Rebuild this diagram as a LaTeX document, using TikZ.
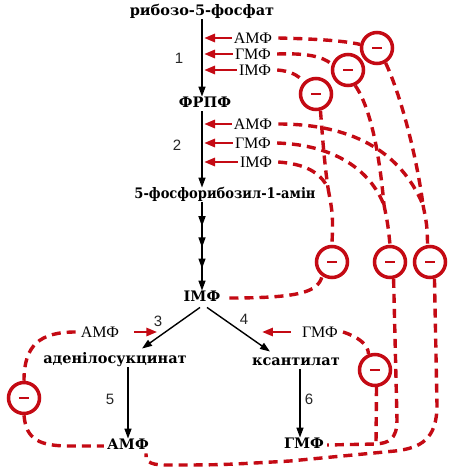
\documentclass[tikz,border=0pt]{standalone}
\usepackage{fontspec}
\setmainfont{Liberation Serif}
\newfontfamily\boldfam{DejaVu Serif}
\newfontfamily\boldnarrow{DejaVu Serif}[FakeStretch=0.9]
\newfontfamily\numfam{Liberation Sans}
\usetikzlibrary{arrows.meta,decorations.markings}
\definecolor{ired}{RGB}{196,10,20}
\begin{document}
\begin{tikzpicture}[x=1pt,y=-1pt,
  main/.style={font=\boldfam\bfseries\fontsize{14.5}{16}\selectfont, inner sep=1pt, text height=9.5pt, text depth=3pt},
  lab/.style={font=\fontsize{16}{18}\selectfont, inner sep=1pt, text height=10.5pt, text depth=0.5pt},
  num/.style={font=\numfam\fontsize{15}{17}\selectfont, inner sep=1pt, text=black!85},
  flow/.style={line width=1.4pt, -{Triangle[length=10pt,width=7pt]}},
  inh/.style={draw=ired, line width=2.8pt, -{Triangle[length=11pt,width=8pt]}},
  fb/.style={draw=ired, line width=3.4pt, dash pattern=on 9pt off 6pt},
  minus/.style={circle, draw=ired, line width=3.5pt, minimum size=31pt, inner sep=0pt, fill=white}]
\useasboundingbox[fill=white] (0,0) rectangle (475,474);

% main pathway nodes
\node[main] (r5p) at (202,12) {рибозо-5-фосфат};
\node[main] (prpp) at (205,104) {ФРПФ};
\node[main, font=\boldnarrow\bfseries\fontsize{14.5}{16}\selectfont] (pra) at (225,195) {5-фосфорибозил-1-амін};
\node[main] (imp) at (202,298) {ІМФ};
\node[main] (ads) at (115,360) {аденілосукцинат};
\node[main] (xmp) at (296,362) {ксантилат};
\node[main] (amp) at (128,446) {АМФ};
\node[main] (gmp) at (304,445) {ГМФ};

% step numbers
\node[num] (n1) at (179,58) {1};
\node[num] (n2) at (177,145) {2};
\node[num] (n3) at (158,321) {3};
\node[num] (n4) at (244,319) {4};
\node[num] (n5) at (110,399) {5};
\node[num] (n6) at (309,399) {6};

% black arrows
\draw[flow] (r5p.south) -- (r5p.south |- prpp.north);
\draw[flow] (r5p.south |- prpp.south) -- (r5p.south |- pra.north);
\draw[flow, postaction={decorate}, decoration={markings,
   mark=at position 0.27 with {\arrow{Triangle[length=10pt,width=7pt]}},
   mark=at position 0.51 with {\arrow{Triangle[length=10pt,width=7pt]}},
   mark=at position 0.75 with {\arrow{Triangle[length=10pt,width=7pt]}}}]
   (r5p.south |- pra.south) -- (r5p.south |- imp.north);
\draw[flow] ([xshift=-2pt,yshift=-2pt]imp.south) -- ([xshift=27pt,yshift=4pt]ads.north);
\draw[flow] ([xshift=5pt,yshift=-2pt]imp.south) -- ([xshift=-26pt,yshift=3pt]xmp.north);
\draw[flow] (amp.north |- ads.south) -- (amp.north);
\draw[flow] ([xshift=-4pt]gmp.north |- xmp.south) -- ([xshift=-4pt]gmp.north);

% inhibitor labels
\node[lab] (a1) at (253,38) {АМФ};
\node[lab] (g1) at (253,54) {ГМФ};
\node[lab] (i1) at (255,70) {ІМФ};
\node[lab] (a2) at (253,124) {АМФ};
\node[lab] (g2) at (253,143) {ГМФ};
\node[lab] (i2) at (256,162) {ІМФ};
\node[lab] (a3) at (100,332) {АМФ};
\node[lab] (g4) at (320,332) {ГМФ};

% red inhibition arrows
\foreach \n in {a1,g1,i1,a2,g2,i2}
  \draw[inh] ([xshift=-1pt]\n.west) -- ([xshift=2pt]\n.west -| r5p.south);
\draw[inh] ([xshift=14pt]a3.east) -- ([xshift=37pt]a3.east);
\draw[inh] ([xshift=-10pt]g4.west) -- ([xshift=-39pt]g4.west);

% circles
\foreach \c/\p in {c1/{(377,48)},c2/{(348,70)},c3/{(316,94)},c4/{(332,262)},c5/{(390,262)},c6/{(430,262)},c7/{(375,370)},c8/{(24,398)}}
  \node[minus] (\c) at \p {\color{ired}\rule[-1pt]{10pt}{2pt}};

% junctions
\coordinate (j6) at (423,205);
\coordinate (j5) at (384,205);
\coordinate (j4) at (328,188);
\coordinate (j7) at (376,444);

% feedback dashed lines (step 1 and 2)
\draw[fb] ([xshift=5pt]a1.east) .. controls (320,39) and (345,41) .. (c1.168);
\draw[fb] ([xshift=5pt]g1.east) .. controls (305,53) and (322,56) .. (c2.160);
\draw[fb] ([xshift=5pt]i1.east) .. controls (290,71) and (298,75) .. (c3.135);
\draw[fb] (c1.300) .. controls (403,100) and (418,165) .. (j6);
\draw[fb] ([xshift=5pt]a2.east) .. controls (350,124) and (400,150) .. (j6);
\draw[fb] (j6) .. controls (427,225) .. (c6.98);
\draw[fb] (c2.295) .. controls (372,110) and (380,160) .. (j5);
\draw[fb] ([xshift=5pt]g2.east) .. controls (335,145) and (370,170) .. (j5);
\draw[fb] (j5) .. controls (388,225) .. (c5.north);
\draw[fb] (c3.285) .. controls (322,130) and (324,160) .. (j4);
\draw[fb] ([xshift=5pt]i2.east) .. controls (305,164) and (320,172) .. (j4);
\draw[fb] (j4) .. controls (333,215) .. (c4.north);

% IMP to c4
\draw[fb] ([xshift=8pt]imp.east) .. controls (300,298) and (318,292) .. (c4.235);

% GMP feedback
\draw[fb] (c5.282) -- (397,420) .. controls (397,440) and (388,443) .. (j7) -- ([xshift=2pt]gmp.east);
\draw[fb] (c7.275) -- (j7);
\draw[fb] ([xshift=4pt]g4.east) .. controls (358,337) and (368,344) .. (c7.112);

% AMP feedback (outer loop)
\draw[fb] (c6.285) -- (437,405) .. controls (437,440) and (420,448) .. (395,451) -- (290,461) .. controls (220,465) .. (165,465) .. controls (148,465) and (145,460) .. ([xshift=-4pt]amp.south east);

% AMP feedback on step 3
\draw[fb] ([xshift=-4pt]a3.west) .. controls (40,332) and (24,345) .. (c8.north);
\draw[fb] (c8.south) .. controls (26,440) and (40,446) .. (70,446) -- ([xshift=-2pt]amp.west);
\end{tikzpicture}
\end{document}
